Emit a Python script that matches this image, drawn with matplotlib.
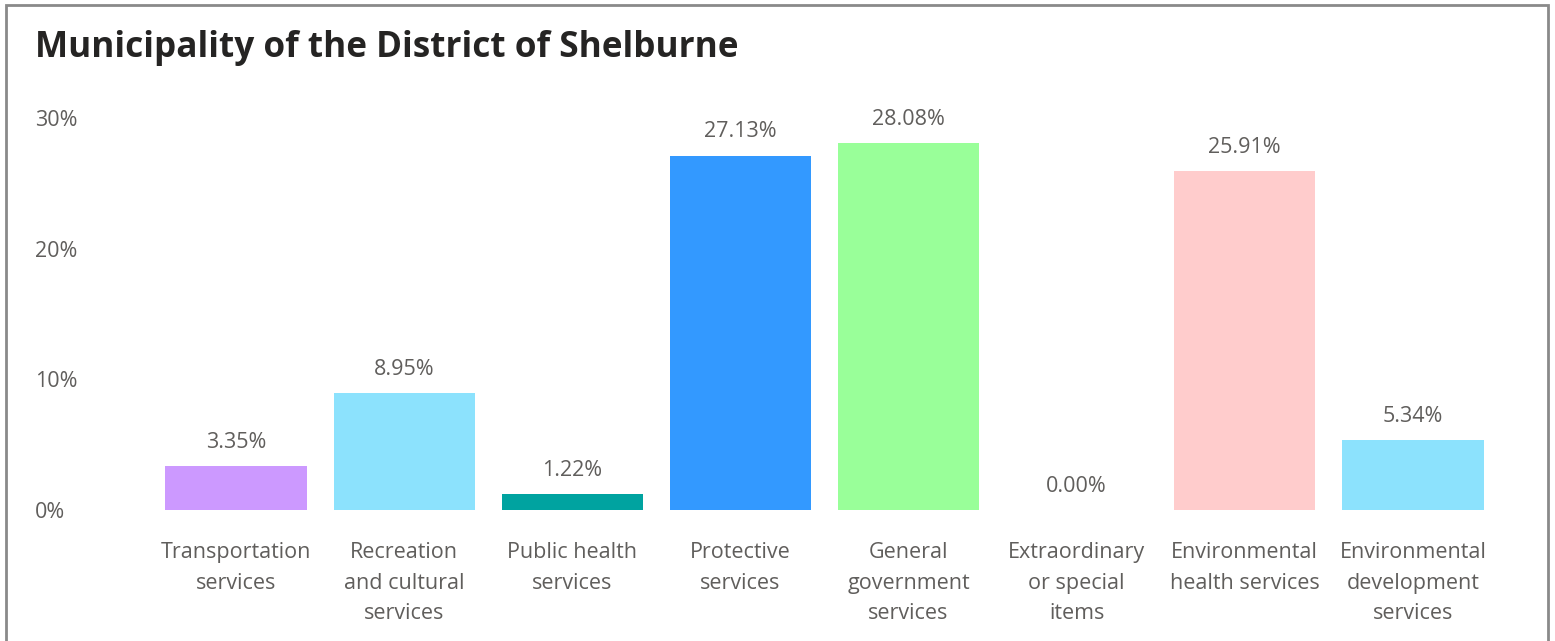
import numpy as np
import matplotlib.pyplot as plt
from matplotlib.patches import Rectangle

''' --------- Data --------- '''
categories = ['Transportation\nservices', 'Recreation\nand cultural\nservices',
              'Public health\nservices', 'Protective\nservices',
              'General\ngovernment\nservices', 'Extraordinary\nor special\nitems',
              'Environmental\nhealth services', 'Environmental\ndevelopment\nservices']
values = [3.35, 8.95, 1.22, 27.13, 28.08, 0.00, 25.91, 5.34]
colors = ['#CC99FF', '#8CE2FD', '#00A3A0', '#3399FF',
          '#99FF99', '#CCCCCC', '#FFCCCC', '#8CE2FD']
yticks = [0, 10, 20, 30]

plt.rcParams['font.family'] = ['Open Sans', 'DejaVu Sans']
grey = '#605E5C'

fig = plt.figure(figsize=(15.55, 6.41), dpi=100)
ax = fig.add_axes([0.0977, 0.2044, 0.8650, 0.6115])

x = np.arange(len(values))
ax.bar(x, values, width=0.84, color=colors)
for xi, v in zip(x, values):
    ax.text(xi, v + 1.8, f'{v:.2f}%', ha='center', va='center',
            fontsize=15.5, color=grey, clip_on=False)

ax.set_xlim(-0.5, len(values) - 0.5)
ax.set_ylim(0, 30)
ax.set_yticks(yticks)
ax.set_yticklabels([f'{t}%' for t in yticks])
ax.set_xticks(x)
ax.set_xticklabels(categories, linespacing=1.6)
ax.tick_params(axis='x', length=0, pad=23, labelsize=15.5, labelcolor=grey)
ax.tick_params(axis='y', length=0, pad=84, labelsize=15.5, labelcolor=grey)
for lbl in ax.get_yticklabels():
    lbl.set_horizontalalignment('left')
for s in ax.spines.values():
    s.set_visible(False)

fig.text(35 / 1555, 1 - 48 / 641, 'Municipality of the District of Shelburne',
         fontsize=25.3, fontweight='bold', color='#252423', va='center', ha='left')

# outer frame
fig.patches.append(Rectangle((6 / 1555, -0.01), 1542 / 1555, 1 - 5 / 641 + 0.01,
                             transform=fig.transFigure, fill=False,
                             edgecolor='#8A8A8A', linewidth=2))

fig.savefig('out.png', dpi=100)
